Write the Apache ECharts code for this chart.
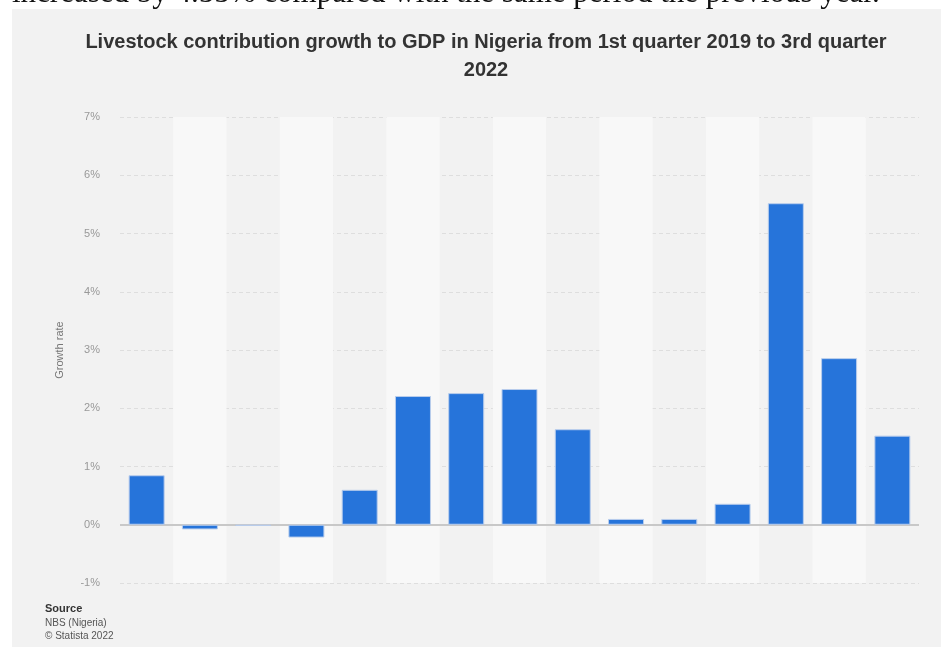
<!DOCTYPE html>
<html>
<head>
<meta charset="utf-8">
<script src="https://cdn.jsdelivr.net/npm/echarts@6/dist/echarts.min.js"></script>
<style>
html,body{margin:0;padding:0;background:#fff;}
#chart{width:941px;height:647px;}
</style>
</head>
<body>
<div id="chart"></div>
<script>
const categories = ["Q1 2019","Q2 2019","Q3 2019","Q4 2019","Q1 2020","Q2 2020","Q3 2020","Q4 2020","Q1 2021","Q2 2021","Q3 2021","Q4 2021","Q1 2022","Q2 2022","Q3 2022"];
const growthValues = [0.85, -0.08, -0.02, -0.22, 0.60, 2.21, 2.26, 2.33, 1.64, 0.10, 0.10, 0.36, 5.52, 2.86, 1.53];
const yTicks = [-1, 0, 1, 2, 3, 4, 5, 6, 7];
const titleText = "Livestock contribution growth to GDP in Nigeria from 1st quarter 2019 to 3rd quarter\n2022";
const pageText = "increased by 4.55% compared with the same period the previous year.";
const sourceLines = ["Source", "NBS (Nigeria)", "© Statista 2022"];

const chart = echarts.init(document.getElementById('chart'), null, {renderer: 'canvas'});
const option = {
  backgroundColor: '#ffffff',
  animation: false,
  graphic: [
    {type: 'rect', left: 12, top: 9, shape: {width: 929, height: 638}, style: {fill: '#f2f2f2'}, z: -10},
    {type: 'text', left: 12, top: -22, style: {text: pageText, font: '31px "Liberation Serif", serif', fill: '#111'}, z: 10},
    {type: 'text', x: 486, y: 28, style: {text: titleText, font: 'bold 20px "Liberation Sans", Arial', fill: '#333', align: 'center', lineHeight: 28}},
    {type: 'text', left: 45, top: 603, style: {text: sourceLines[0], font: 'bold 11px "Liberation Sans", Arial', fill: '#333'}},
    {type: 'text', left: 45, top: 618, style: {text: sourceLines[1], font: '10px "Liberation Sans", Arial', fill: '#555'}},
    {type: 'text', left: 45, top: 631, style: {text: sourceLines[2], font: '10px "Liberation Sans", Arial', fill: '#555'}}
  ],
  grid: {left: 120, right: 22, top: 117, bottom: 64, containLabel: false},
  xAxis: {
    type: 'category',
    data: categories,
    axisLine: {show: false},
    axisTick: {show: false, interval: 0},
    axisLabel: {show: false, interval: 0},
    splitArea: {show: true, interval: 0, areaStyle: {color: ['rgba(0,0,0,0)', '#f8f8f8']}}
  },
  yAxis: {
    type: 'value',
    min: yTicks[0],
    max: yTicks[yTicks.length - 1],
    interval: 1,
    name: 'Growth rate',
    nameLocation: 'middle',
    nameGap: 55,
    nameTextStyle: {fontFamily: '"Liberation Sans", Arial', fontSize: 11, color: '#777'},
    axisLine: {show: false},
    axisTick: {show: false},
    axisLabel: {formatter: v => v + '%', fontFamily: '"Liberation Sans", Arial', fontSize: 11, color: '#999', margin: 20},
    splitLine: {lineStyle: {color: '#dedede', type: [4, 3], width: 1}}
  },
  series: [{
    type: 'bar',
    data: growthValues,
    barWidth: 36,
    itemStyle: {color: '#2674da', borderColor: '#b9cdec', borderWidth: 1},
    markLine: {
      silent: true,
      symbol: 'none',
      label: {show: false},
      lineStyle: {color: '#c8c8c8', type: 'solid', width: 2},
      data: [{yAxis: 0}],
      z: 1
    }
  }]
};
chart.setOption(option);
</script>
</body>
</html>
